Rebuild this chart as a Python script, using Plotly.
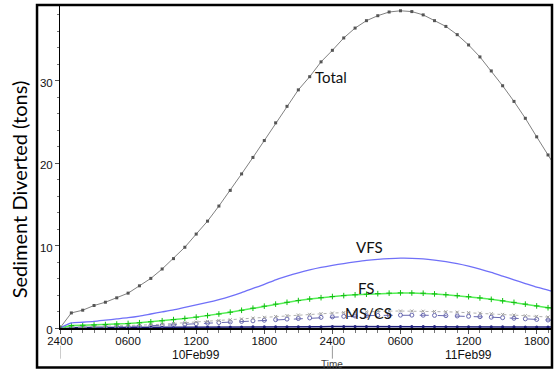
import plotly.graph_objects as go

hours = list(range(0, 45))

total = [0, 1.83, 2.16, 2.73, 3.13, 3.66, 4.23, 5.12, 6.02, 7.16, 8.42, 9.8, 11.4,
         12.97, 14.8, 16.7, 18.7, 20.7, 22.75, 24.9, 26.9, 28.9, 30.5, 32.3, 33.7,
         35.2, 36.4, 37.3, 37.9, 38.35, 38.5, 38.4, 38.0, 37.3, 36.6, 35.6, 34.35,
         32.9, 31.2, 29.4, 27.5, 25.45, 23.2, 21.0, 18.8]

vfs = [0, 0.62, 0.7, 0.8, 0.95, 1.1, 1.25, 1.45, 1.7, 1.95, 2.2, 2.5, 2.8, 3.1,
       3.45, 3.85, 4.3, 4.8, 5.3, 5.85, 6.3, 6.7, 7.05, 7.35, 7.6, 7.82, 8.02,
       8.2, 8.33, 8.42, 8.47, 8.46, 8.4, 8.25, 8.05, 7.8, 7.5, 7.15, 6.75, 6.3,
       5.85, 5.4, 4.95, 4.6, 4.2]

fs = [0, 0.3, 0.33, 0.37, 0.42, 0.48, 0.55, 0.64, 0.75, 0.88, 1.02, 1.16, 1.32,
      1.5, 1.7, 1.92, 2.15, 2.4, 2.65, 2.9, 3.12, 3.33, 3.52, 3.68, 3.82, 3.93,
      4.03, 4.1, 4.17, 4.23, 4.26, 4.25, 4.22, 4.14, 4.04, 3.93, 3.8, 3.65, 3.48,
      3.3, 3.11, 2.9, 2.68, 2.46, 2.25]

ms = [0, 0.12, 0.14, 0.17, 0.2, 0.24, 0.28, 0.33, 0.39, 0.46, 0.54, 0.62, 0.71,
      0.8, 0.9, 1.0, 1.1, 1.2, 1.3, 1.4, 1.5, 1.58, 1.66, 1.74, 1.81, 1.87, 1.93,
      1.98, 2.02, 2.05, 2.06, 2.06, 2.04, 2.01, 1.97, 1.92, 1.86, 1.8, 1.73,
      1.65, 1.57, 1.49, 1.41, 1.33, 1.25]

cs = [0, 0.05, 0.07, 0.09, 0.11, 0.14, 0.17, 0.21, 0.26, 0.32, 0.38, 0.45, 0.52,
      0.59, 0.66, 0.73, 0.8, 0.87, 0.94, 1.01, 1.08, 1.15, 1.22, 1.29, 1.35,
      1.41, 1.46, 1.5, 1.53, 1.55, 1.56, 1.56, 1.55, 1.53, 1.5, 1.46, 1.42,
      1.37, 1.31, 1.25, 1.18, 1.11, 1.04, 0.97, 0.9]

vcs = [0, 0.06, 0.06, 0.07, 0.07, 0.08, 0.08, 0.09, 0.09, 0.1, 0.1, 0.11, 0.11,
       0.12, 0.12, 0.13, 0.13, 0.14, 0.14, 0.15, 0.15, 0.16, 0.16, 0.16, 0.17,
       0.17, 0.17, 0.17, 0.17, 0.17, 0.17, 0.17, 0.17, 0.17, 0.16, 0.16, 0.16,
       0.15, 0.15, 0.14, 0.14, 0.13, 0.13, 0.12, 0.12]

tick_vals = [0, 6, 12, 18, 24, 30, 36, 42]
tick_text = ["2400", "0600", "1200", "1800", "2400", "0600", "1200", "1800"]
day_labels = ["10Feb99", "11Feb99"]
day_label_pos = [12, 36]
day_bounds = [0, 24]

fig = go.Figure()

fig.add_trace(go.Scatter(x=hours, y=vcs, mode="lines+markers", name="VCS",
                         line=dict(color="#1c1c7a", width=1.5),
                         marker=dict(symbol="circle", size=3, color="#1c1c7a")))
fig.add_trace(go.Scatter(x=hours, y=cs, mode="lines+markers", name="CS",
                         line=dict(color="#6868b0", width=1, dash="dash"),
                         marker=dict(symbol="circle-open", size=4, color="#6868b0")))
fig.add_trace(go.Scatter(x=hours, y=ms, mode="lines+markers", name="MS",
                         line=dict(color="#b0b0b0", width=1, dash="dot"),
                         marker=dict(symbol="x-thin-open", size=3, color="#a0a0a0",
                                     line=dict(width=1, color="#a0a0a0"))))
fig.add_trace(go.Scatter(x=hours, y=fs, mode="lines+markers", name="FS",
                         line=dict(color="#55ee55", width=1.5),
                         marker=dict(symbol="cross-thin-open", size=4, color="#10c010",
                                     line=dict(width=1, color="#10c010"))))
fig.add_trace(go.Scatter(x=hours, y=vfs, mode="lines", name="VFS",
                         line=dict(color="#7070f8", width=1.3, shape="spline", smoothing=0.6)))
fig.add_trace(go.Scatter(x=hours, y=total, mode="lines+markers", name="Total",
                         line=dict(color="#808080", width=1),
                         marker=dict(symbol="square", size=3, color="#555555")))

lab_font = dict(family="Lato, Open Sans, sans-serif", size=15, color="#111111")
for txt, xx, yy in [("Total", 22.3, 30.5), ("VFS", 25.9, 9.8),
                    ("FS", 26.1, 4.9), ("MS/CS", 24.9, 1.8)]:
    fig.add_annotation(x=xx, y=yy, text=txt, showarrow=False, xanchor="left",
                       yanchor="middle", font=lab_font)

for txt, xx in zip(day_labels, day_label_pos):
    fig.add_annotation(x=xx, y=-0.084, yref="paper", text=txt, showarrow=False,
                       xanchor="center", yanchor="middle",
                       font=dict(family="Liberation Sans, Arial", size=12, color="#111"))

for xx in day_bounds:
    fig.add_shape(type="line", xref="x", yref="paper", x0=xx, x1=xx,
                  y0=-0.055, y1=-0.095, line=dict(color="#999999", width=1))

fig.add_annotation(x=24, y=-0.112, yref="paper", text="Time", showarrow=False,
                   xanchor="center", yanchor="middle",
                   font=dict(family="Liberation Sans, Arial", size=10, color="#444"))

fig.add_annotation(x=-0.083, y=0.43, xref="paper", yref="paper",
                   text="Sediment Diverted (tons)", textangle=-90, showarrow=False,
                   xanchor="center", yanchor="middle",
                   font=dict(family="Lato, Open Sans, sans-serif", size=20, color="#000"))

# outer frame
fig.add_shape(type="rect", xref="paper", yref="paper", x0=-0.0467, x1=1.0,
              y0=-0.122, y1=1.0, line=dict(color="#000000", width=2.5),
              fillcolor="rgba(0,0,0,0)")

fig.update_layout(
    width=555, height=372,
    margin=dict(l=60, r=3, t=5, b=44),
    paper_bgcolor="white", plot_bgcolor="white",
    showlegend=False,
    font=dict(family="Liberation Sans, Arial", size=12, color="#111"),
    xaxis=dict(range=[0, 43.35], tickmode="array", tickvals=tick_vals,
               ticktext=tick_text, showgrid=False, zeroline=False,
               showline=True, linecolor="#000", linewidth=2,
               ticks="outside", ticklen=4, tickcolor="#555",
               ticklabelstandoff=-3,
               tickfont=dict(family="Liberation Sans, Arial", size=11.5, color="#111"),
               minor=dict(tickmode="linear", tick0=0, dtick=1, ticks="outside",
                          ticklen=3, tickcolor="#777", showgrid=False)),
    yaxis=dict(range=[0, 39.2], tickmode="array", tickvals=[0, 10, 20, 30],
               showgrid=False, zeroline=False,
               showline=True, linecolor="#000", linewidth=1,
               ticks="outside", ticklen=4, tickcolor="#555",
               ticklabelshift=2,
               tickfont=dict(family="Liberation Sans, Arial", size=11.5, color="#111"),
               minor=dict(tickmode="linear", tick0=0, dtick=2, ticks="outside",
                          ticklen=2, tickcolor="#777", showgrid=False)),
)

fig.write_html("out.html", config={"displayModeBar": False},
               post_script="document.body.style.margin='0';")
